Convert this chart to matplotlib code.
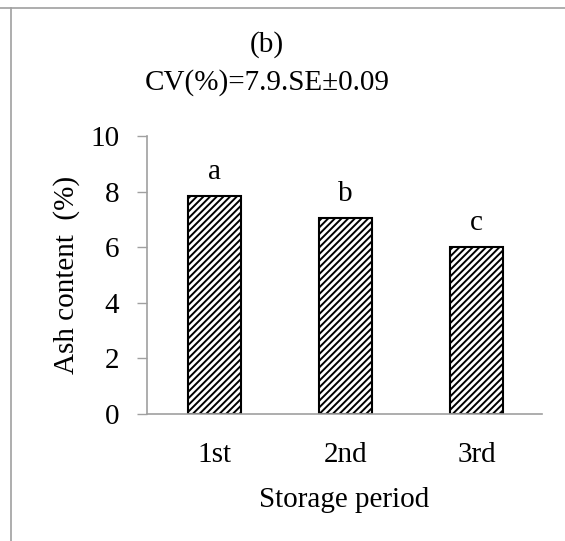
import numpy as np
import matplotlib
matplotlib.use('Agg')
import matplotlib.pyplot as plt
from matplotlib.lines import Line2D

periods = ['1st', '2nd', '3rd']
ash = [7.85, 7.05, 6.02]
letters = ['a', 'b', 'c']
yticks = [0, 2, 4, 6, 8, 10]

plt.rcParams['font.family'] = ['Liberation Serif', 'DejaVu Serif']
plt.rcParams['hatch.linewidth'] = 1.4
plt.rcParams['hatch.color'] = 'black'

fs = 21
W, H = 565, 541
fig = plt.figure(figsize=(W / 100, H / 100), dpi=100)
# axes box in pixels: left 147, right 542, bottom(y=0) 414, top(y=10) 136
ax = fig.add_axes([147 / W, 1 - 414 / H, (542 - 147) / W, (414 - 136) / H])

x = np.arange(len(periods))
ax.bar(x, ash, width=0.40, color='white', edgecolor='black', linewidth=1.5, hatch='/////')
for xi, v, t in zip(x, ash, letters):
    ax.text(xi, v + 0.85, t, ha='center', va='center', fontsize=fs)

ax.set_xlim(-0.515, 2.5)
ax.set_ylim(0, 10)
ax.set_yticks(yticks)
ax.set_xticks(x)
ax.set_xticklabels(periods)
ax.tick_params(axis='y', direction='out', length=7, width=1, color='#a0a0a0', labelsize=fs, pad=13)
ax.tick_params(axis='x', length=0, labelsize=fs, pad=20)
for s in ['top', 'right']:
    ax.spines[s].set_visible(False)
for s in ['left', 'bottom']:
    ax.spines[s].set_color('#a0a0a0')
    ax.spines[s].set_linewidth(1.2)

ax.set_xlabel('Storage period', fontsize=fs, labelpad=14)
ax.set_ylabel('Ash content  (%)', fontsize=fs, labelpad=7)

fig.text(267 / W, 1 - 45 / H, '(b)', ha='center', va='center', fontsize=fs)
fig.text(267 / W, 1 - 83 / H, 'CV(%)=7.9.SE±0.09', ha='center', va='center', fontsize=fs)

# outer frame lines
fig.add_artist(Line2D([0, 1], [1 - 8 / H, 1 - 8 / H], transform=fig.transFigure, color='#a0a0a0', lw=1.2))
fig.add_artist(Line2D([11 / W, 11 / W], [0, 1 - 8 / H], transform=fig.transFigure, color='#a0a0a0', lw=1.2))

fig.savefig('out.png', dpi=100)
